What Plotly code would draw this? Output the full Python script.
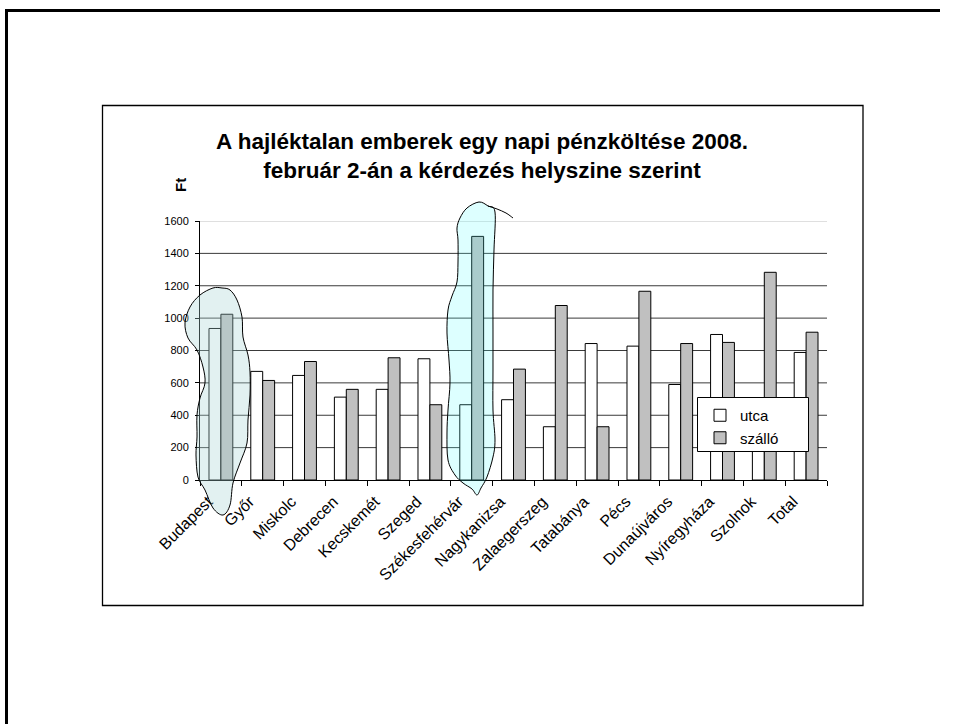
import plotly.graph_objects as go

categories = ["Budapest", "Győr", "Miskolc", "Debrecen", "Kecskemét", "Szeged",
              "Székesfehérvár", "Nagykanizsa", "Zalaegerszeg", "Tatabánya", "Pécs",
              "Dunaújváros", "Nyíregyháza", "Szolnok", "Total"]
utca = [936, 671, 646, 512, 560, 749, 465, 496, 329, 843, 827, 590, 899, 400, 788]
szallo = [1024, 615, 732, 560, 755, 465, 1505, 685, 1078, 329, 1166, 843, 850, 1283, 913]
y_ticks = [0, 200, 400, 600, 800, 1000, 1200, 1400, 1600]

W, H = 956, 724
FONT = "Arial, 'Liberation Sans', sans-serif"

def px(x):
    return x / W

def py(y):
    return 1 - y / H

def smooth_path(pts, closed=True):
    n = len(pts)
    P = [(px(x), py(y)) for x, y in pts]
    d = "M %.5f,%.5f" % P[0]
    rng = range(n) if closed else range(n - 1)
    for i in rng:
        p0 = P[(i - 1) % n] if (closed or i > 0) else P[i]
        p1 = P[i]
        p2 = P[(i + 1) % n]
        p3 = P[(i + 2) % n] if (closed or i + 2 < n) else p2
        c1 = (p1[0] + (p2[0] - p0[0]) / 6, p1[1] + (p2[1] - p0[1]) / 6)
        c2 = (p2[0] - (p3[0] - p1[0]) / 6, p2[1] - (p3[1] - p1[1]) / 6)
        d += " C %.5f,%.5f %.5f,%.5f %.5f,%.5f" % (c1[0], c1[1], c2[0], c2[1], p2[0], p2[1])
    if closed:
        d += " Z"
    return d

fig = go.Figure()
fig.add_trace(go.Bar(x=categories, y=utca, name="utca", legendgroup="a",
                     marker=dict(color="#ffffff", line=dict(color="#000000", width=1))))
fig.add_trace(go.Bar(x=categories, y=szallo, name="szálló", legendgroup="b",
                     marker=dict(color="#c0c0c0", line=dict(color="#000000", width=1))))

shapes = []
# outer slide frame: left edge and top edge (top edge stops short of the right border)
shapes.append(dict(type="path", xref="paper", yref="paper",
                   path="M %.5f,%.5f L %.5f,%.5f L %.5f,%.5f" % (px(6.5), 0, px(6.5), py(10.5), px(940), py(10.5)),
                   line=dict(color="#000000", width=3), layer="below"))
# chart box
shapes.append(dict(type="rect", xref="paper", yref="paper",
                   x0=px(102.5), y0=py(105.5), x1=px(863), y1=py(605.5),
                   line=dict(color="#000000", width=1.3), fillcolor="rgba(0,0,0,0)", layer="below"))
# gridlines
for v in y_ticks[1:]:
    shapes.append(dict(type="line", xref="x domain", yref="y", x0=0, x1=1, y0=v, y1=v,
                       line=dict(color="#c0c0c0" if v == y_ticks[-1] else "#3a3a3a", width=1),
                       layer="below"))

# highlight blobs
bud = [(213, 288), (222, 288), (230, 290), (237, 300), (242, 317), (243, 337), (248, 355),
       (250, 372), (250, 395), (248, 420), (247, 443), (240, 463), (233, 483), (230, 505),
       (223, 515), (213, 508), (205, 490), (198, 477), (196, 455), (197, 437), (197, 415),
       (200, 398), (205, 383), (203, 367), (197, 350), (188, 338), (185, 323), (190, 307),
       (200, 295)]
shapes.append(dict(type="path", xref="paper", yref="paper", path=smooth_path(bud),
                   fillcolor="rgba(168,213,213,0.33)", line=dict(color="#000000", width=1),
                   layer="above"))
szf = [(479, 202), (467, 208), (460, 218), (457, 228), (458, 240), (458, 262), (457, 282),
       (452, 296), (448, 310), (447, 333), (449, 360), (450, 383), (448, 410), (447, 433),
       (448, 460), (455, 475), (463, 483), (472, 489), (477, 495), (481, 488), (487, 477),
       (493, 457), (495, 440), (493, 410), (493, 370), (493, 330), (493, 290), (494, 250),
       (495, 212), (488, 206)]
shapes.append(dict(type="path", xref="paper", yref="paper", path=smooth_path(szf),
                   fillcolor="rgba(85,255,255,0.2)", line=dict(color="#000000", width=1),
                   layer="above"))
tail = [(488, 206), (497, 209), (506, 213), (513, 218)]
shapes.append(dict(type="path", xref="paper", yref="paper", path=smooth_path(tail, closed=False),
                   line=dict(color="#000000", width=1), layer="above"))
# legend box
shapes.append(dict(type="rect", xref="paper", yref="paper",
                   x0=px(697.5), y0=py(397.5), x1=px(808.5), y1=py(451.5),
                   line=dict(color="#000000", width=1), fillcolor="#ffffff", layer="above"))

fig.update_layout(
    width=W, height=H,
    margin=dict(l=0, r=0, t=0, b=0, autoexpand=False),
    paper_bgcolor="#ffffff", plot_bgcolor="rgba(0,0,0,0)",
    font=dict(family=FONT, color="#000000"),
    barmode="group", bargap=0.43, bargroupgap=0,
    showlegend=True,
    legend=dict(x=px(700), y=py(399), xanchor="left", yanchor="top",
                bgcolor="rgba(0,0,0,0)", borderwidth=0,
                font=dict(size=15, family=FONT), tracegroupgap=4, traceorder="normal"),
    title=dict(text="<b>A hajléktalan emberek egy napi pénzköltése 2008.<br>február 2-án a kérdezés helyszine szerint</b>",
               x=px(482), y=py(148.5), xanchor="center", yanchor="middle", automargin=False,
               font=dict(size=22.5, family=FONT, color="#000000")),
    xaxis=dict(domain=[px(200), px(827)], type="category", showgrid=False, automargin=False,
               showline=True, linecolor="#000000", linewidth=1,
               ticks="outside", tickson="boundaries", ticklen=5, tickcolor="#000000",
               tickangle=-45, ticklabelshift=-13, ticklabelstandoff=5,
               tickfont=dict(size=16, family=FONT)),
    yaxis=dict(domain=[py(480), py(221)], range=[0, 1600], tickvals=y_ticks,
               showgrid=False, zeroline=False, automargin=False,
               showline=True, linecolor="#000000", linewidth=1,
               ticks="outside", ticklen=4, tickcolor="#000000", ticklabelstandoff=4,
               tickfont=dict(size=11, family=FONT)),
    shapes=shapes,
    annotations=[dict(text="<b>Ft</b>", xref="paper", yref="paper", x=px(180), y=py(185),
                      xanchor="center", yanchor="middle", textangle=-90, showarrow=False,
                      font=dict(size=15, family=FONT, color="#000000"))],
)

fig.write_html("out.html", config={"displayModeBar": False},
               post_script="document.body.style.margin='0';document.body.style.overflow='hidden';")
